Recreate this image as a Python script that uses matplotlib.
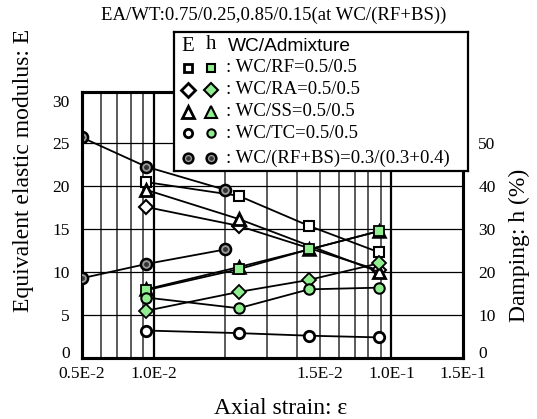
import matplotlib
matplotlib.use("Agg")
import matplotlib.pyplot as plt

plt.rcParams['font.family'] = ['Liberation Serif', 'DejaVu Serif']

W, H = 537, 419

# ---- data ----
x4 = [0.0093, 0.0228, 0.045, 0.089]
x3 = [0.0093, 0.0228, 0.089]
x_bs = [0.005, 0.0093, 0.02]

rf_E = [20.5, 18.9, 15.4, 12.3]
rf_h = [15.8, 20.7, 25.3, 29.6]
ra_E = [17.6, 15.4, 10.2]
ra_h = [11.0, 15.4, 18.2, 22.1]
ss_E = [19.6, 16.2, 10.0]
ss_h = [16.0, 21.2, 25.3, 29.6]
tc_E = [3.2, 2.9, 2.6, 2.4]
tc_h = [14.1, 11.6, 16.0, 16.4]
bs_E = [25.7, 22.3, 19.6]
bs_h = [18.6, 21.9, 25.3]

xticks = [0.005, 0.01, 0.05, 0.1, 0.2]
xticklabels = ['0.5E-2', '1.0E-2', '1.5E-2', '1.0E-1', '1.5E-1']
yticks_E = [0, 5, 10, 15, 20, 25, 30]
yticks_h = [0, 10, 20, 30, 40, 50]

title = 'EA/WT:0.75/0.25,0.85/0.15(at WC/(RF+BS))'
legend_rows = [': WC/RF=0.5/0.5', ': WC/RA=0.5/0.5', ': WC/SS=0.5/0.5',
               ': WC/TC=0.5/0.5', ': WC/(RF+BS)=0.3/(0.3+0.4)']

GREEN = '#90ee90'

fig = plt.figure(figsize=(W / 100, H / 100), dpi=100)
ax = fig.add_axes([82 / W, 1 - 358 / H, (463 - 82) / W, (358 - 92) / H])
ax.set_xscale('log')
ax.set_xlim(0.005, 0.2)
ax.set_ylim(0, 31)
ax2 = ax.twinx()
ax2.set_ylim(0, 62)

# grid
for v in [0.006, 0.007, 0.008, 0.009, 0.02, 0.03, 0.04, 0.05, 0.06, 0.07, 0.08, 0.09]:
    ax.axvline(v, color='#4d4d4d', lw=1.3, zorder=1)
for v in [0.01, 0.1]:
    ax.axvline(v, color='black', lw=1.6, zorder=1)
for v in [5, 10, 15, 20, 25]:
    ax.axhline(v, color='black', lw=0.9, zorder=1)

ax.set_xticks(xticks)
ax.set_xticklabels(xticklabels)
ax.xaxis.set_minor_locator(matplotlib.ticker.NullLocator())
ax.set_yticks(yticks_E)
ax2.set_yticks(yticks_h)
ax.tick_params(length=0, labelsize=12.5)
ax.tick_params(axis='x', pad=6)
ax.tick_params(axis='y', pad=9)
ax2.tick_params(length=0, labelsize=12.5, pad=11)
for a in (ax, ax2):
    for s in a.spines.values():
        s.set_linewidth(2.2)
# lift the two "0" labels a little so they do not collide with the x labels
for a in (ax, ax2):
    for lbl in a.get_yticklabels():
        if lbl.get_text() in ('0', '$\\mathdefault{0}$'):
            lbl.set_verticalalignment('baseline')

lk = dict(color='black', lw=1.3, zorder=3)
ms = 7.5
# E series (open markers)
ax.plot(x4, rf_E, marker='s', ms=ms, mfc='white', mec='black', mew=1.5, **lk)
ax.plot(x3, ra_E, marker='D', ms=ms, mfc='white', mec='black', mew=1.5, **lk)
ax.plot(x3, ss_E, marker='^', ms=ms + 1, mfc='white', mec='black', mew=2, **lk)
ax.plot(x4, tc_E, marker='o', ms=ms, mfc='white', mec='black', mew=2, **lk)
ax.plot(x_bs, bs_E, marker='o', ms=ms + 0.5, mfc='#9a9a9a', mec='black', mew=1.8, **lk)
ax.plot(x_bs, bs_E, ls='none', marker='o', ms=2.5, mfc='#333333', mec='#333333', zorder=4)
# h series (green markers)
ax2.plot(x4, ss_h, marker='^', ms=ms + 1, mfc=GREEN, mec='black', mew=1.8, **lk)
ax2.plot(x4, rf_h, marker='s', ms=ms, mfc=GREEN, mec='black', mew=1.3, **lk)
ax2.plot(x4, ra_h, marker='D', ms=ms, mfc=GREEN, mec='black', mew=1.3, **lk)
ax2.plot(x4, tc_h, marker='o', ms=ms, mfc=GREEN, mec='black', mew=1.5, **lk)
ax2.plot(x_bs, bs_h, marker='o', ms=ms + 0.5, mfc='#9a9a9a', mec='black', mew=1.8, **lk)
ax2.plot(x_bs, bs_h, ls='none', marker='o', ms=2.5, mfc='#333333', mec='#333333', zorder=4)

# labels
fig.text(281 / W, 1 - 408 / H, 'Axial strain: ε', ha='center', va='center', fontsize=17)
fig.text(24 / W, 1 - 170 / H, 'Equivalent elastic modulus: E', ha='center', va='center',
         rotation=90, fontsize=17)
fig.text(519 / W, 1 - 245 / H, 'Damping: h (%)', ha='center', va='center',
         rotation=90, fontsize=17)
fig.text(274 / W, 1 - 15 / H, title, ha='center', va='center', fontsize=13.5)

# legend box
L0, T0, L1, T1 = 174, 32, 468, 171
lax = fig.add_axes([L0 / W, 1 - T1 / H, (L1 - L0) / W, (T1 - T0) / H])
lax.set_xlim(0, L1 - L0)
lax.set_ylim(T1 - T0, 0)
lax.set_xticks([])
lax.set_yticks([])
lax.set_facecolor('white')
for s in lax.spines.values():
    s.set_linewidth(1.6)

rows_y = [36, 58, 80, 101, 126]
lax.text(13.5, 15, 'E', ha='center', va='center', fontsize=15)
lax.text(37, 13, 'h', ha='center', va='center', fontsize=15)
lax.text(54, 15, 'WC/Admixture', ha='left', va='center', fontsize=13.8,
         family=['Liberation Sans', 'DejaVu Sans'])
mk = ['s', 'D', '^', 'o', 'o']
msz = [6, 7, 8, 6, 7]
for i, (y, lab) in enumerate(zip(rows_y, legend_rows)):
    if i < 4:
        lax.plot([14], [y], marker=mk[i], ms=msz[i], mfc='white', mec='black', mew=2, ls='none')
        lax.plot([37], [y], marker=mk[i], ms=msz[i], mfc=GREEN, mec='black', mew=1.5, ls='none')
    else:
        for xx in (14, 37):
            lax.plot([xx], [y], marker='o', ms=7, mfc='#9a9a9a', mec='black', mew=1.8, ls='none')
            lax.plot([xx], [y], marker='o', ms=2.2, mfc='#333333', mec='#333333', ls='none')
    lax.text(52, y, lab, ha='left', va='center', fontsize=13.5)

fig.savefig('out.png', dpi=100)
